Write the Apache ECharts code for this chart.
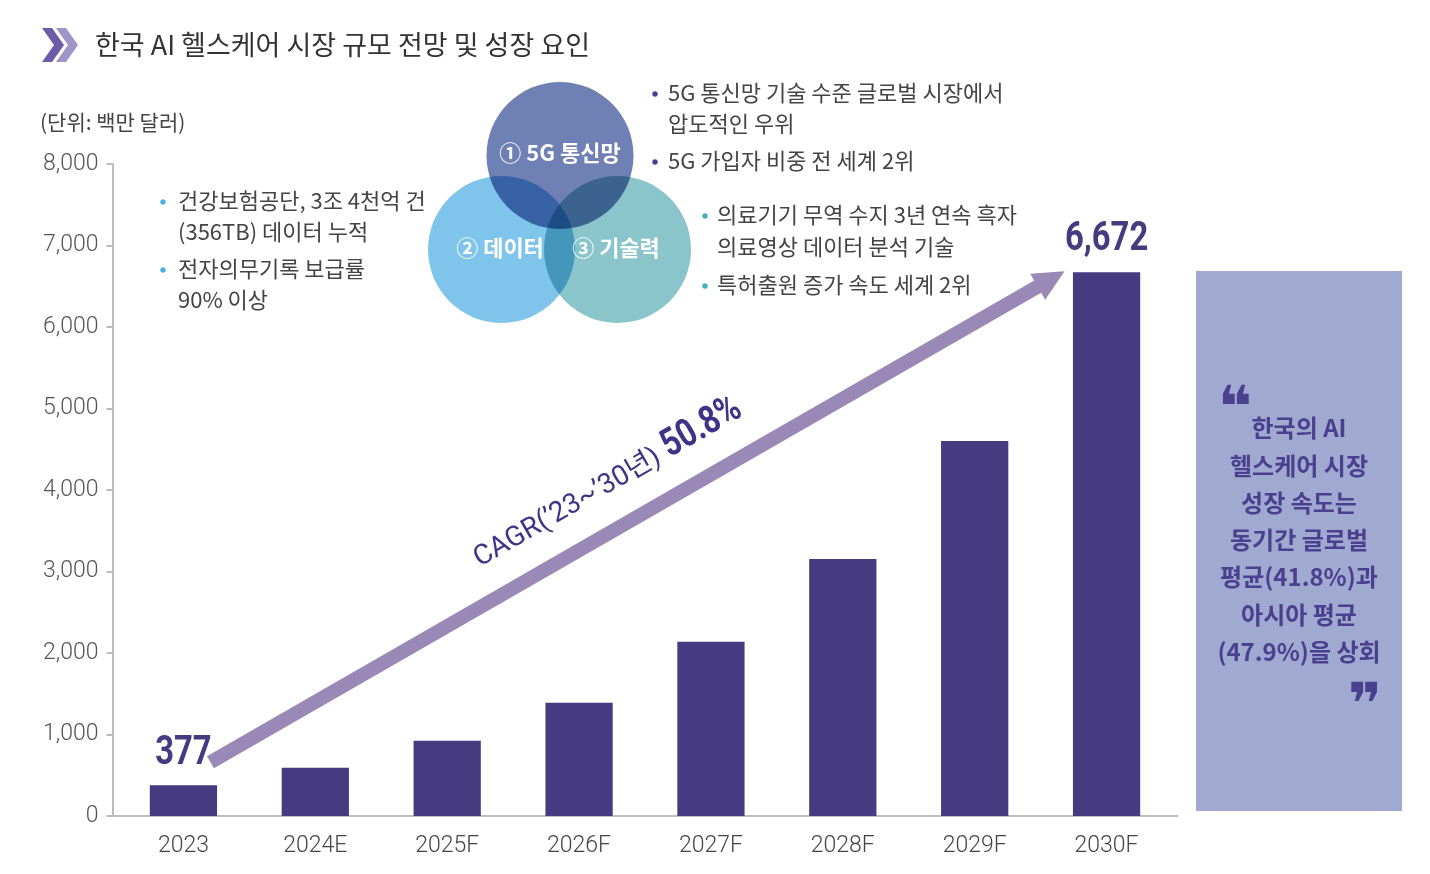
<!DOCTYPE html>
<html><head><meta charset="utf-8">
<script src="https://cdn.jsdelivr.net/npm/echarts@6/dist/echarts.min.js"></script>
<style>html,body{margin:0;padding:0;background:#fff}#c{width:1430px;height:874px}</style>
</head><body><div id="c"></div>
<script>
const categories = ['2023','2024E','2025F','2026F','2027F','2028F','2029F','2030F'];
const marketValues = [377, 593, 924, 1390, 2139, 3153, 4601, 6672];
const yTicks = {min: 0, max: 8000, interval: 1000};
const labeledIdx = [0, 7];
const titleText = '한국 AI 헬스케어 시장 규모 전망 및 성장 요인';
const unitText = '(단위: 백만 달러)';
const cagrLabel = 'CAGR(’23~’30년)';
const cagrValue = '50.8%';
const vennLabels = ['① 5G 통신망', '② 데이터', '③ 기술력'];
const bulletsData = ['건강보험공단, 3조 4천억 건', '(356TB) 데이터 누적', '전자의무기록 보급률', '90% 이상'];
const bullets5G = ['5G 통신망 기술 수준 글로벌 시장에서', '압도적인 우위', '5G 가입자 비중 전 세계 2위'];
const bulletsTech = ['의료기기 무역 수지 3년 연속 흑자', '의료영상 데이터 분석 기술', '특허출원 증가 속도 세계 2위'];
const boxLines = ['한국의 AI', '헬스케어 시장', '성장 속도는', '동기간 글로벌', '평균(41.8%)과', '아시아 평균', '(47.9%)을 상회'];

const KR = "'Noto Sans CJK KR', sans-serif";
const NUM = "Roboto, 'Noto Sans CJK KR', sans-serif";
const LAT = "Roboto, 'Noto Sans CJK KR', sans-serif";
const BAR = '#463a80';
const TXT = '#444444';

const chart = echarts.init(document.getElementById('c'), null, {renderer: 'canvas'});

function txt(text, x, y, size, color, opts) {
  return Object.assign({
    type: 'text', x: x, y: y, silent: true,
    style: Object.assign({text: text, fill: color, fontSize: size, fontFamily: KR,
      align: 'left', verticalAlign: 'middle'}, (opts && opts.style) || {})
  }, (opts && opts.el) || {});
}
function dot(x, y, color) {
  return {type: 'circle', shape: {cx: x, cy: y, r: 2.7}, style: {fill: color}, silent: true};
}

const staticGraphics = [];
staticGraphics.push({type: 'polygon', shape: {points: [[42,28],[52,28],[64,45],[52,62],[42,62],[54,45]]}, style: {fill: '#6b5ca8'}});
staticGraphics.push({type: 'polygon', shape: {points: [[56,28],[66,28],[78,45],[66,62],[56,62],[68,45]]}, style: {fill: '#a095c9'}});
staticGraphics.push(txt(titleText, 95, 45, 27, '#333333'));
staticGraphics.push(txt(unitText, 40, 122, 21, TXT));
// venn
staticGraphics.push({type: 'circle', shape: {cx: 501.5, cy: 249.5, r: 73.5}, style: {fill: '#7fc4eb'}});
staticGraphics.push({type: 'circle', shape: {cx: 617.5, cy: 249.5, r: 73.5}, style: {fill: '#89c5cb', blend: 'multiply'}});
staticGraphics.push({type: 'circle', shape: {cx: 560, cy: 155.5, r: 73.5}, style: {fill: '#6f80b4', blend: 'multiply'}});
staticGraphics.push(txt(vennLabels[0], 560, 153, 22, '#ffffff', {style: {align: 'center', fontWeight: 'bold'}}));
staticGraphics.push(txt(vennLabels[1], 500, 248, 22, '#ffffff', {style: {align: 'center', fontWeight: 'bold'}}));
staticGraphics.push(txt(vennLabels[2], 616, 248, 22, '#ffffff', {style: {align: 'center', fontWeight: 'bold'}}));
// bullets left
staticGraphics.push(dot(163, 202, '#4fb0e3'));
staticGraphics.push(txt(bulletsData[0], 178, 201, 22, TXT));
staticGraphics.push(txt(bulletsData[1], 178, 232, 22, TXT));
staticGraphics.push(dot(163, 270, '#4fb0e3'));
staticGraphics.push(txt(bulletsData[2], 178, 269, 22, TXT));
staticGraphics.push(txt(bulletsData[3], 178, 300, 22, TXT));
// bullets 5G
staticGraphics.push(dot(655, 94, '#4b3f8e'));
staticGraphics.push(txt(bullets5G[0], 668, 93, 22, TXT));
staticGraphics.push(txt(bullets5G[1], 668, 124, 22, TXT));
staticGraphics.push(dot(655, 162, '#4b3f8e'));
staticGraphics.push(txt(bullets5G[2], 668, 161, 22, TXT));
// bullets tech
staticGraphics.push(dot(705, 216, '#3fb0b8'));
staticGraphics.push(txt(bulletsTech[0], 717, 215, 22, TXT));
staticGraphics.push(txt(bulletsTech[1], 717, 247, 22, TXT));
staticGraphics.push(dot(705, 286, '#3fb0b8'));
staticGraphics.push(txt(bulletsTech[2], 717, 285, 22, TXT));
// right box
staticGraphics.push({type: 'rect', shape: {x: 1196, y: 271, width: 206, height: 540}, style: {fill: '#a0a9cf'}});
staticGraphics.push(txt('❝', 1235, 412, 58, '#4b3f8f', {style: {align: 'center', fontFamily: "'DejaVu Sans', sans-serif", fontWeight: 'bold'}}));
staticGraphics.push(txt('❞', 1365, 709, 58, '#4b3f8f', {style: {align: 'center', fontFamily: "'DejaVu Sans', sans-serif", fontWeight: 'bold'}}));
staticGraphics.push(txt(boxLines.join('\n'), 1299, 540, 24, '#4b3f8f', {style: {align: 'center', fontWeight: 'bold', lineHeight: 37.3}}));

const option = {
  animation: false,
  backgroundColor: '#ffffff',
  grid: {left: 117.5, right: 257.5, top: 164, bottom: 58, containLabel: false},
  xAxis: {
    type: 'category', data: categories,
    axisLine: {show: false}, axisTick: {show: false},
    axisLabel: {fontSize: 23, color: TXT, margin: 19, fontFamily: LAT, fontWeight: 300}
  },
  yAxis: {
    type: 'value', min: yTicks.min, max: yTicks.max, interval: yTicks.interval, offset: 5,
    axisLine: {show: true, lineStyle: {color: '#bdbdbd', width: 2}},
    axisTick: {show: true, length: 6, lineStyle: {color: '#bdbdbd', width: 2}},
    splitLine: {show: false},
    axisLabel: {fontSize: 23, color: '#555555', margin: 14, fontFamily: LAT, fontWeight: 300,
      formatter: v => v.toLocaleString('en-US')}
  },
  series: [{
    type: 'bar', barWidth: '51%',
    itemStyle: {color: BAR},
    data: marketValues
  }],
  graphic: staticGraphics
};
chart.setOption(option);

const px = (i, v) => chart.convertToPixel({seriesIndex: 0}, [categories[i], v]);
const p0 = px(0, marketValues[0]);
const p7 = px(7, marketValues[7]);
const base = px(0, 0);
const start = [p0[0] + 27, p0[1] - 23];
const tip = [p7[0] - 42, p7[1] - 1];
const dx = tip[0] - start[0], dy = tip[1] - start[1];
const len = Math.sqrt(dx * dx + dy * dy);
const u = [dx / len, dy / len];
const n = [u[1], -u[0]];
const headLen = 31, headHalf = 15;
const hb = [tip[0] - u[0] * headLen, tip[1] - u[1] * headLen];
const ang = Math.atan2(start[1] - tip[1], tip[0] - start[0]);
const t = 0.497, off = 42;
const cx = start[0] + dx * t + n[0] * off, cy = start[1] + dy * t + n[1] * off;

const extra = [
  {type: 'line', shape: {x1: 112.5, y1: base[1], x2: 1178, y2: base[1]}, style: {stroke: '#bdbdbd', lineWidth: 2}, z: 1},
  {type: 'polyline', shape: {points: [start, [hb[0] + u[0] * 3, hb[1] + u[1] * 3]]}, style: {stroke: '#9a89b7', lineWidth: 14, lineCap: 'butt', fill: null}, z: 5},
  {type: 'polygon', shape: {points: [tip, [hb[0] + n[0] * headHalf, hb[1] + n[1] * headHalf], [hb[0] - n[0] * headHalf, hb[1] - n[1] * headHalf]]}, style: {fill: '#9a89b7'}, z: 5},
  {type: 'group', x: cx, y: cy, rotation: ang, z: 6, silent: true, children: [
    {type: 'text', x: 52, y: 0, style: {text: cagrLabel, align: 'right', verticalAlign: 'middle',
      fontSize: 28, fontFamily: LAT, fill: '#3d3488'}},
    {type: 'text', x: 60, y: -3, scaleX: 0.8, style: {text: cagrValue, align: 'left', verticalAlign: 'middle',
      fontSize: 39, fontFamily: NUM, fontWeight: 'bold', fill: '#3d3488'}}
  ]}
];
labeledIdx.forEach(i => {
  const p = px(i, marketValues[i]);
  extra.push({type: 'text', x: p[0], y: p[1] - 32, scaleX: 0.8, z: 6, silent: true,
    style: {text: marketValues[i].toLocaleString('en-US'), align: 'center', verticalAlign: 'middle',
      fontSize: 41, fontFamily: NUM, fontWeight: 'bold', fill: BAR}});
});
chart.setOption({graphic: staticGraphics.concat(extra)});
</script>
</body></html>
